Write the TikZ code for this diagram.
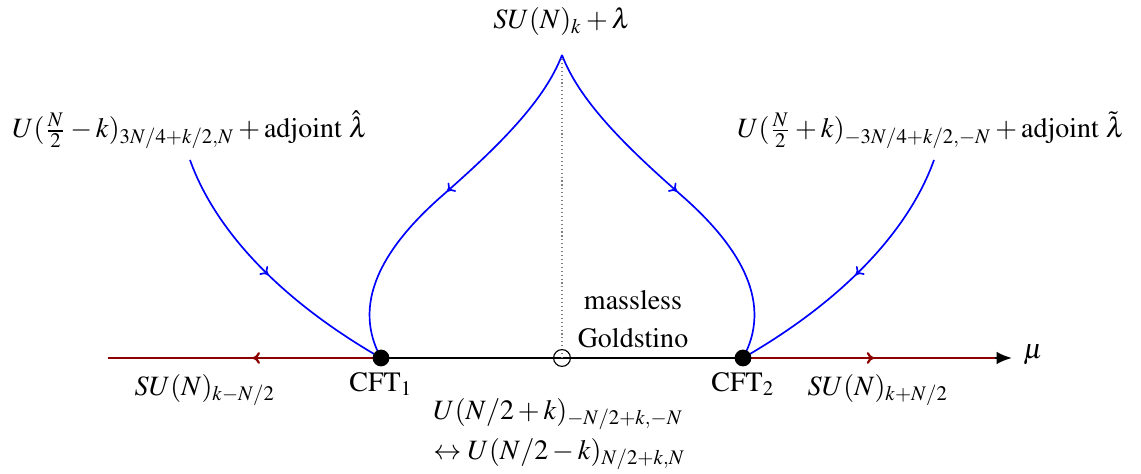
\documentclass[tikz,border=0pt]{standalone}
\usepackage[T1]{fontenc}
\usepackage{mathptmx}
\usetikzlibrary{decorations.markings,arrows.meta}
\definecolor{flowred}{RGB}{140,0,0}
\begin{document}
\begin{tikzpicture}[x=0.357pt,y=-0.357pt,
  mk/.style={decoration={markings,mark=at position #1 with {\arrow{To[length=2.6pt,width=4.2pt]}}},postaction=decorate},
  bflow/.style={blue,semithick},
  rflow/.style={flowred,thick},
  fdot/.style={circle,fill=black,inner sep=0pt,minimum size=6pt},
  odot/.style={circle,draw=black,thin,inner sep=0pt,minimum size=6pt},
  lbl/.style={inner sep=1pt}]
\useasboundingbox (0,0) rectangle (1141,474);
\coordinate (top) at (562,55);
\coordinate (L) at (108,358);
\coordinate (R) at (1012,358);
\coordinate (Rr) at (995,358);
\coordinate (a) at (190,160);
\coordinate (b) at (934,160);
\coordinate (c1p) at (381,358);
\coordinate (c2p) at (743,358);
\coordinate (gp) at (562,358);
% axis
\draw[thick,-{Latex[length=5.5pt,width=4.5pt]}] (L) -- (R);
\draw[rflow,mk=0.47] (c1p) -- (L);
\draw[rflow,mk=0.52] (c2p) -- (Rr);
% dotted line
\draw[densely dotted,gray,thin] (top) -- (gp);
% blue flows
\draw[bflow,mk=0.48] (top) .. controls (545,100) and (500,145) .. (443,195)
   .. controls (380,250) and (352,305) .. (c1p);
\draw[bflow,mk=0.48] (top) .. controls (579,100) and (624,145) .. (681,195)
   .. controls (744,250) and (772,305) .. (c2p);
\draw[bflow,mk=0.5] (a) .. controls (215,230) and (280,300) .. (c1p);
\draw[bflow,mk=0.5] (b) .. controls (909,230) and (844,300) .. (c2p);
% points
\node[fdot] (c1) at (c1p) {};
\node[fdot] (c2) at (c2p) {};
\node[odot] (g) at (gp) {};
% labels
\node[lbl] (ttop) at (562,22) {$SU(N)_k+\lambda$};
\node[lbl] (tleft) at (190,130) {$U(\frac{N}{2}-k)_{3N/4+k/2,N}+\mbox{adjoint }\hat\lambda$};
\node[lbl] (tright) at (931,130) {$U(\frac{N}{2}+k)_{-3N/4+k/2,-N}+\mbox{adjoint }\tilde\lambda$};
\node[lbl] (tm1) at (633,300) {massless};
\node[lbl] (tm2) at (633,338) {Goldstino};
\node[lbl] (tc1) at (381,384) {CFT$_1$};
\node[lbl] (tc2) at (743,384) {CFT$_2$};
\node[lbl] (tsl) at (205,390) {$SU(N)_{k-N/2}$};
\node[lbl] (tsr) at (878,390) {$SU(N)_{k+N/2}$};
\node[lbl,anchor=west] (tb1) at (430,414) {$U(N/2+k)_{-N/2+k,-N}$};
\node[lbl,anchor=west] (tb2) at (430,454) {$\leftrightarrow U(N/2-k)_{N/2+k,N}$};
\node[lbl,anchor=west] (tmu) at (1020,355) {$\mu$};
\end{tikzpicture}
\end{document}
